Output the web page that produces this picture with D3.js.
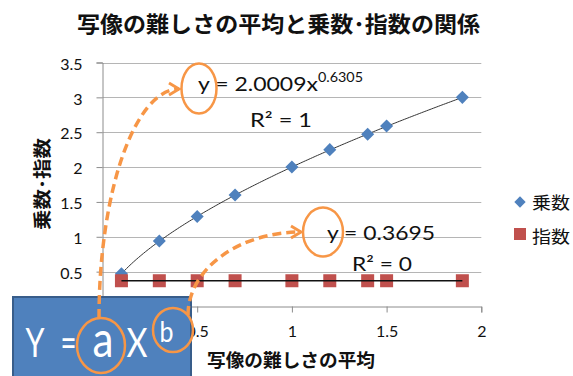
<!DOCTYPE html>
<html>
<head>
<meta charset="utf-8">
<script src="https://cdn.jsdelivr.net/npm/d3@7"></script>
<style>
  body { margin: 0; background: #fff; }
  svg { display: block; }
</style>
</head>
<body>
<script>
// ---- data ----
const difficulty = [0.1, 0.3, 0.5, 0.7, 1.0, 1.2, 1.4, 1.5, 1.9];   // 写像の難しさの平均
const multiplier = [0.47, 0.94, 1.29, 1.60, 2.00, 2.25, 2.47, 2.59, 3.00]; // 乗数
const exponent   = [0.3695, 0.3695, 0.3695, 0.3695, 0.3695, 0.3695, 0.3695, 0.3695, 0.3695]; // 指数
const seriesNames = ["乗数", "指数"];
const xTicks = [0, 0.5, 1, 1.5, 2];
const yTicks = [0, 0.5, 1, 1.5, 2, 2.5, 3, 3.5];
const powerFit = { a: 2.0009, b: 0.6305, r2: 1 };
const constFit = { c: 0.3695, r2: 0 };

const W = 573, H = 376;
const blue = "#4F81BD", red = "#C0504D", orange = "#F79646";
const latin = "Lato, 'Noto Sans', sans-serif";
const cjk = "'Noto Sans CJK JP', sans-serif";

const svg = d3.select("body").append("svg").attr("width", W).attr("height", H);

const x = d3.scaleLinear().domain([0, 2]).range([102.5, 481.3]);
const y = d3.scaleLinear().domain([0, 3.5]).range([306.5, 62.5]);

// title
svg.append("text")
  .attr("x", 77).attr("y", 22)
  .attr("dominant-baseline", "central")
  .attr("textLength", 403).attr("lengthAdjust", "spacingAndGlyphs")
  .style("font-family", cjk).style("font-weight", "bold").style("font-size", "22px")
  .attr("fill", "#111")
  .text("写像の難しさの平均と乗数･指数の関係");

// horizontal gridlines
svg.append("g").selectAll("line")
  .data(yTicks.filter(d => d > 0))
  .join("line")
  .attr("x1", x(0)).attr("x2", x(2))
  .attr("y1", d => Math.round(y(d)) + 0.5).attr("y2", d => Math.round(y(d)) + 0.5)
  .attr("stroke", "#b5b5b5").attr("stroke-width", 1);

// axes (the origin labels sit under the formula box, so they are left blank)
const fmt = d => d === 0 ? "" : d3.format("")(d);
const yAxis = svg.append("g")
  .attr("transform", `translate(${x(0)},0)`)
  .call(d3.axisLeft(y).tickValues(yTicks).tickSize(6).tickPadding(14).tickFormat(fmt));
const xAxis = svg.append("g")
  .attr("transform", `translate(0,${y(0)})`)
  .call(d3.axisBottom(x).tickValues(xTicks).tickSize(6).tickPadding(13).tickFormat(fmt));
[yAxis, xAxis].forEach(g => {
  g.select(".domain").attr("stroke", "#8c8c8c");
  g.selectAll(".tick line").attr("stroke", "#8c8c8c");
  g.selectAll("text").style("font-family", latin).style("font-size", "16px").attr("fill", "#111");
});
yAxis.selectAll("text").attr("dy", "0.42em");

// axis titles
svg.append("text")
  .attr("transform", "translate(41,184) rotate(-90)")
  .attr("text-anchor", "middle").attr("dominant-baseline", "central")
  .attr("textLength", 92).attr("lengthAdjust", "spacingAndGlyphs")
  .style("font-family", cjk).style("font-weight", "bold").style("font-size", "18px")
  .attr("fill", "#111")
  .text("乗数･指数");
svg.append("text")
  .attr("x", 207).attr("y", 359)
  .attr("dominant-baseline", "central")
  .attr("textLength", 168).attr("lengthAdjust", "spacingAndGlyphs")
  .style("font-family", cjk).style("font-weight", "bold").style("font-size", "18px")
  .attr("fill", "#111")
  .text("写像の難しさの平均");

// trendlines
const xMin = d3.min(difficulty), xMax = d3.max(difficulty);
const fitX = d3.range(0, 201).map(i => xMin + (xMax - xMin) * i / 200);
svg.append("path")
  .datum(fitX)
  .attr("d", d3.line().x(d => x(d)).y(d => y(powerFit.a * Math.pow(d, powerFit.b))))
  .attr("fill", "none").attr("stroke", "#333").attr("stroke-width", 1);

// markers
const diamond = d3.symbol().type(d3.symbolSquare).size(85);
svg.append("g").selectAll("path")
  .data(difficulty.map((d, i) => [d, multiplier[i]]))
  .join("path")
  .attr("d", diamond)
  .attr("transform", d => `translate(${x(d[0])},${y(d[1])}) rotate(45)`)
  .attr("fill", blue);

svg.append("g").selectAll("rect")
  .data(difficulty.map((d, i) => [d, exponent[i]]))
  .join("rect")
  .attr("x", d => x(d[0]) - 6.5).attr("y", d => y(d[1]) - 6.5)
  .attr("width", 13).attr("height", 13)
  .attr("fill", red);

svg.append("line")
  .attr("x1", x(xMin)).attr("x2", x(xMax))
  .attr("y1", y(constFit.c)).attr("y2", y(constFit.c))
  .attr("stroke", "#111").attr("stroke-width", 1.3);

// trendline equations
function eqText(tx, ty, str, size, len) {
  return svg.append("text")
    .attr("x", tx).attr("y", ty)
    .attr("textLength", len).attr("lengthAdjust", "spacingAndGlyphs")
    .style("font-family", latin).style("font-size", size + "px")
    .attr("fill", "#111")
    .text(str);
}
eqText(198, 91, `y = ${powerFit.a.toFixed(4)}x`, 19, 120);
eqText(318, 82, powerFit.b.toFixed(4), 13, 45);
eqText(250, 127, `R² = ${powerFit.r2}`, 19, 62);
eqText(327, 240, `y = ${constFit.c.toFixed(4)}`, 19, 108);
eqText(352, 271, `R² = ${constFit.r2}`, 19, 60);

// legend
const legend = svg.append("g");
legend.append("path").attr("d", d3.symbol().type(d3.symbolSquare).size(64))
  .attr("transform", "translate(520,202) rotate(45)").attr("fill", blue);
legend.append("rect").attr("x", 514).attr("y", 228).attr("width", 12).attr("height", 12).attr("fill", red);
legend.selectAll("text")
  .data(seriesNames)
  .join("text")
  .attr("x", 532).attr("y", (d, i) => i === 0 ? 201 : 235)
  .attr("dominant-baseline", "central")
  .attr("textLength", 38).attr("lengthAdjust", "spacingAndGlyphs")
  .style("font-family", cjk).style("font-size", "17px")
  .attr("fill", "#111")
  .text(d => d);

// formula box
svg.append("rect")
  .attr("x", 13).attr("y", 297).attr("width", 178).attr("height", 100)
  .attr("fill", blue).attr("stroke", "#385D8A").attr("stroke-width", 2);
const boxText = [
  { t: "Y", cx: 35, by: 357, s: 41, w: 19 },
  { t: "=", cx: 68.5, by: 357, s: 40, w: 16 },
  { t: "a", cx: 103, by: 357, s: 50, w: 21 },
  { t: "X", cx: 137, by: 357, s: 40, w: 21 },
  { t: "b", cx: 166.5, by: 342, s: 28, w: 14 }
];
svg.append("g").selectAll("text")
  .data(boxText)
  .join("text")
  .attr("x", d => d.cx).attr("y", d => d.by)
  .attr("text-anchor", "middle")
  .attr("textLength", d => d.w).attr("lengthAdjust", "spacingAndGlyphs")
  .style("font-family", latin).style("font-size", d => d.s + "px")
  .attr("fill", "#fff")
  .text(d => d.t);

// orange callouts
const defs = svg.append("defs");
defs.append("marker")
  .attr("id", "chev").attr("markerUnits", "userSpaceOnUse")
  .attr("viewBox", "-12 -8 14 16").attr("refX", 0).attr("refY", 0)
  .attr("markerWidth", 14).attr("markerHeight", 16).attr("orient", "auto")
  .append("path").attr("d", "M-10,-6 L0,0 L-10,6")
  .attr("fill", "none").attr("stroke", orange).attr("stroke-width", 3);

const rings = [
  { cx: 199, cy: 88.5, rx: 17.5, ry: 25 },
  { cx: 323, cy: 232, rx: 20, ry: 24.5 },
  { cx: 101, cy: 345.5, rx: 24, ry: 27.5 },
  { cx: 173, cy: 330, rx: 20, ry: 22 }
];
svg.append("g").selectAll("ellipse")
  .data(rings)
  .join("ellipse")
  .attr("cx", d => d.cx).attr("cy", d => d.cy).attr("rx", d => d.rx).attr("ry", d => d.ry)
  .attr("fill", "none").attr("stroke", orange).attr("stroke-width", 2.5);

const arrows = [
  "M99,318 C99,192 135,89 179,89",
  "M188,315 C188,269 239,232 301,232"
];
svg.append("g").selectAll("path")
  .data(arrows)
  .join("path")
  .attr("d", d => d)
  .attr("fill", "none").attr("stroke", orange).attr("stroke-width", 3.5)
  .attr("stroke-dasharray", "9,5")
  .attr("marker-end", "url(#chev)");
</script>
</body>
</html>
